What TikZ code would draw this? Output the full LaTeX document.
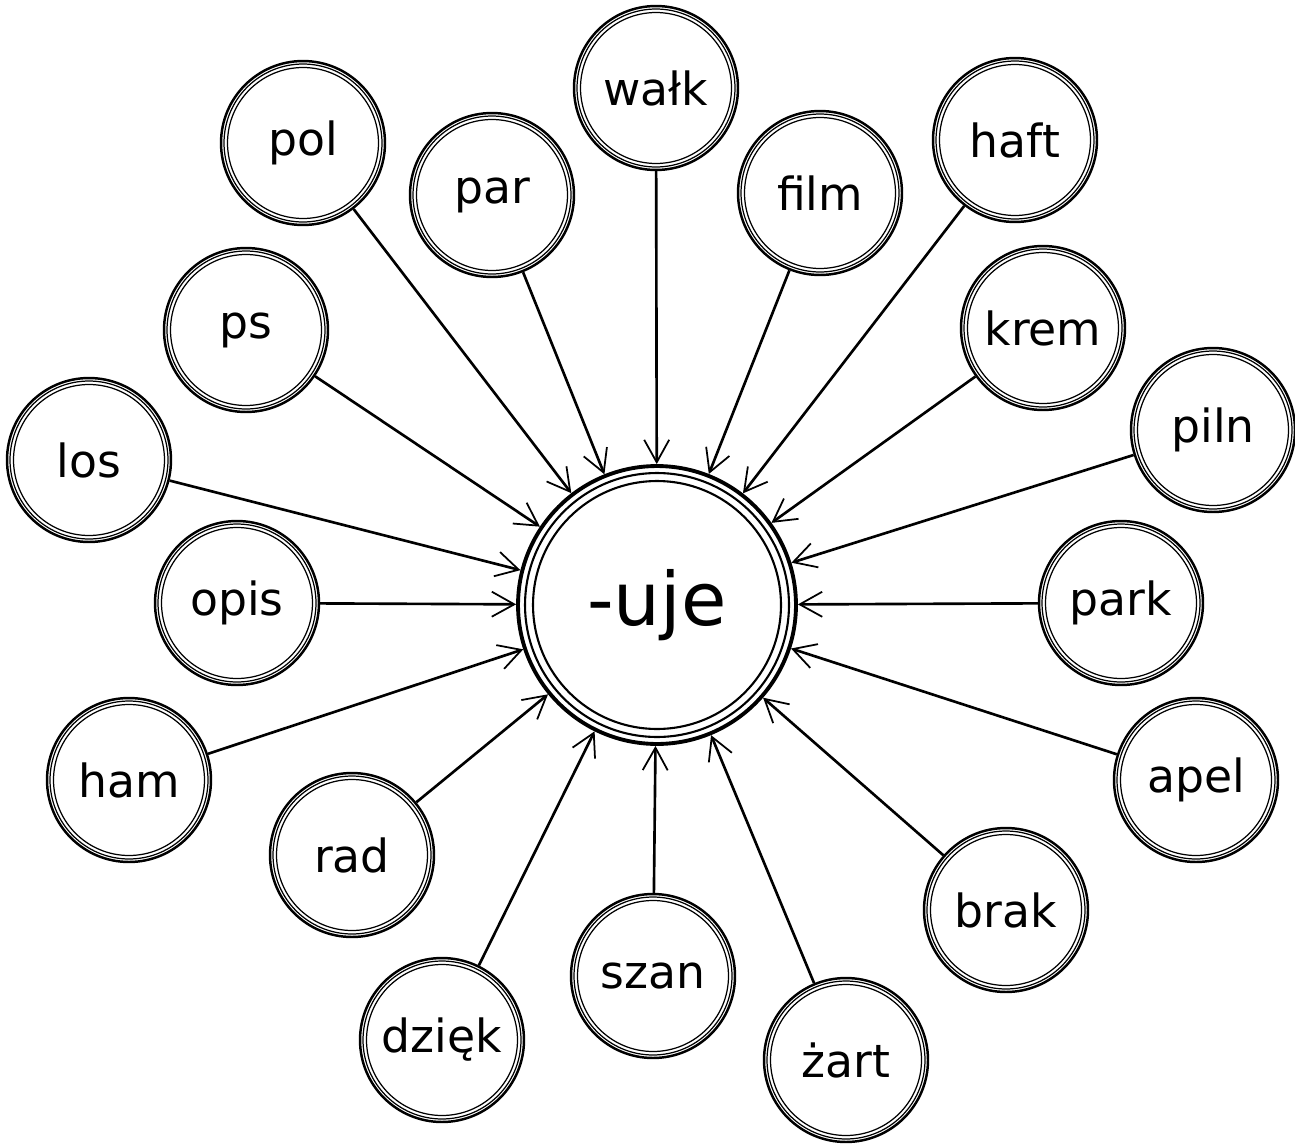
\documentclass[tikz,border=0pt]{standalone}
\usepackage{fontspec}
\setmainfont{DejaVu Sans}
\usetikzlibrary{arrows.meta}
\tikzset{
  bub/.style={circle, draw, line width=1.4pt, minimum size=3.28cm, inner sep=0pt,
    font=\fontsize{26}{31}\selectfont},
  hub/.style={circle, draw, line width=2.2pt, minimum size=5.56cm, inner sep=0pt,
    font=\fontsize{42}{50}\selectfont},
  ring/.style={line width=0.7pt},
  hubring/.style={line width=1.2pt},
  conn/.style={line width=1.5pt, -{Straight Barb[length=4.5mm,width=5mm,line width=1pt]}}
}
\begin{document}
\begin{tikzpicture}[x=0.02cm,y=-0.02cm]
\useasboundingbox (0,0) rectangle (1295,1146);
\node[hub] (c) at (657,605) {-uje};
\draw[hubring] (c.center) circle (2.64cm);
\draw[hubring] (c.center) circle (2.48cm);
\foreach \n/\t/\x/\y in {
  walk/wałk/656/88, pol/pol/303/143, par/par/492/195, film/film/820/193,
  haft/haft/1015/140, ps/ps/246/330, krem/krem/1043/328, los/los/89/460,
  piln/piln/1213/430, opis/opis/237/603, park/park/1121/603, ham/ham/129/780,
  apel/apel/1196/780, rad/rad/352/855, brak/brak/1006/910, dziek/dzięk/442/1040,
  szan/szan/653/976, zart/żart/846/1060}{
  \node[bub] (\n) at (\x,\y) {\t};
  \draw[ring] (\n.center) circle (1.58cm);
  \draw[ring] (\n.center) circle (1.51cm);
  \draw[conn] (\n) -- (c);
}
\end{tikzpicture}
\end{document}
